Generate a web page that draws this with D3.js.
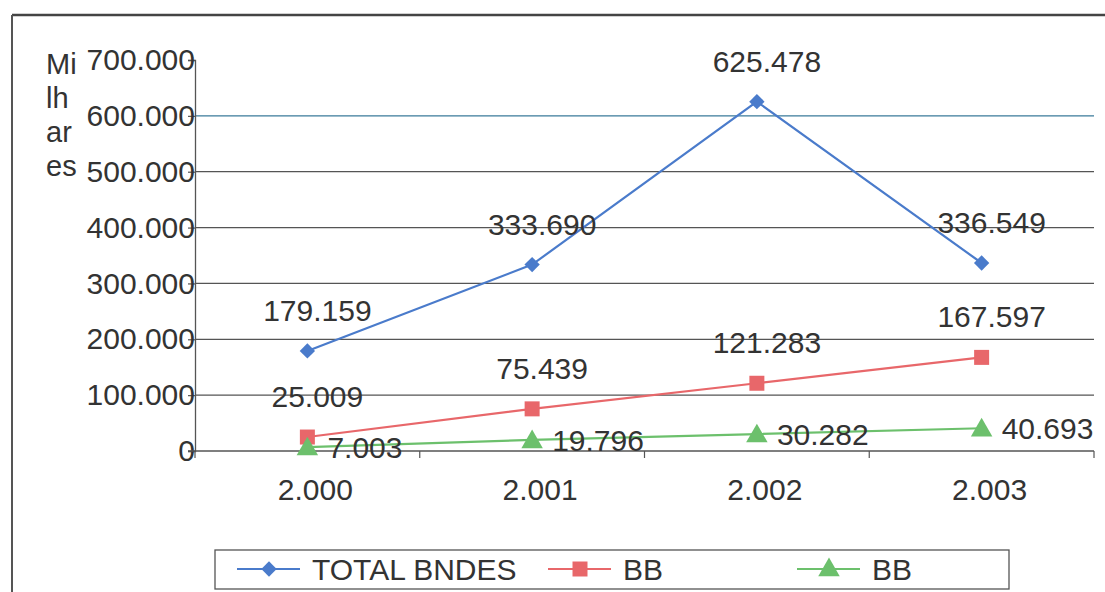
<!DOCTYPE html>
<html>
<head>
<meta charset="utf-8">
<script src="https://cdn.jsdelivr.net/npm/d3@7"></script>
<style>
  body { margin: 0; background: #fff; }
  svg { display: block; }
  text { font-family: "Liberation Sans", Arial, sans-serif; fill: #333; }
</style>
</head>
<body>
<svg id="chart" width="1105" height="592"></svg>
<script>
// Data
const years = ['2.000', '2.001', '2.002', '2.003'];
const totalBndes = [179159, 333690, 625478, 336549];
const bbRed = [25009, 75439, 121283, 167597];
const bbGreen = [7003, 19796, 30282, 40693];
const yTicks = [0, 100000, 200000, 300000, 400000, 500000, 600000, 700000];
const seriesNames = ['TOTAL BNDES', 'BB', 'BB'];

const width = 1105, height = 592;
const margin = {left: 195, right: 11, top: 60, bottom: 141};

const svg = d3.select('#chart');

// portuguese number format: 700.000
const pt = d3.formatLocale({decimal: ',', thousands: '.', grouping: [3], currency: ['R$', '']});
const fmt = pt.format(',d');

const x = d3.scaleBand()
  .domain(years)
  .range([margin.left, width - margin.right]);

const y = d3.scaleLinear()
  .domain([0, 700000])
  .range([height - margin.bottom, margin.top]);

// outer frame (partly cropped in the scan)
svg.append('line')
  .attr('x1', 12).attr('x2', width).attr('y1', 15).attr('y2', 15)
  .attr('stroke', '#444').attr('stroke-width', 2.5);
svg.append('line')
  .attr('x1', 12).attr('x2', 12).attr('y1', 15).attr('y2', height)
  .attr('stroke', '#555').attr('stroke-width', 2);

// gridlines
svg.append('g')
  .selectAll('line')
  .data(yTicks.filter(d => d > 0 && d < 700000))
  .enter()
  .append('line')
  .attr('x1', margin.left).attr('x2', width - margin.right)
  .attr('y1', d => y(d)).attr('y2', d => y(d))
  .attr('stroke', d => d === 600000 ? '#3a7a9a' : '#555')
  .attr('stroke-width', 1.2);

// y axis
const yAxis = svg.append('g')
  .attr('transform', `translate(${margin.left},0)`)
  .call(d3.axisLeft(y).tickValues(yTicks).tickFormat(fmt).tickSize(7).tickPadding(0));
yAxis.select('.domain').attr('stroke', '#555').attr('stroke-width', 1.3);
yAxis.selectAll('.tick line').attr('stroke', '#555').attr('stroke-width', 1.2);
yAxis.selectAll('.tick text')
  .attr('x', 0)
  .style('font-size', '30px')
  .style('font-family', '"Liberation Sans", Arial, sans-serif')
  .attr('fill', '#333');

// x axis with ticks at the category boundaries
const xAxisG = svg.append('g')
  .attr('transform', `translate(0,${y(0)})`);
xAxisG.append('line')
  .attr('x1', margin.left - 7).attr('x2', width - margin.right)
  .attr('stroke', '#555').attr('stroke-width', 1.3);
xAxisG.selectAll('line.tk')
  .data(years.concat(['end']))
  .enter()
  .append('line')
  .attr('class', 'tk')
  .attr('x1', (d, i) => margin.left + i * x.bandwidth())
  .attr('x2', (d, i) => margin.left + i * x.bandwidth())
  .attr('y1', 0).attr('y2', 7)
  .attr('stroke', '#555').attr('stroke-width', 1.2);
xAxisG.selectAll('text')
  .data(years)
  .enter()
  .append('text')
  .attr('x', d => x(d) + x.bandwidth() / 2 + 8)
  .attr('y', 49)
  .attr('text-anchor', 'middle')
  .style('font-size', '30px')
  .text(d => d);

// axis title "Milhares" broken over 4 lines
svg.append('text')
  .attr('x', 46).attr('y', 74)
  .style('font-size', '29px')
  .selectAll('tspan')
  .data(['Mi', 'lh', 'ar', 'es'])
  .enter()
  .append('tspan')
  .attr('x', 46)
  .attr('dy', (d, i) => i === 0 ? 0 : 34)
  .text(d => d);

const cx = d => x(d) + x.bandwidth() / 2;

const series = [
  {values: totalBndes, color: '#4a7bcb', marker: 'diamond', lx: 10, ly: -30},
  {values: bbRed, color: '#e8676a', marker: 'square', lx: 10, ly: -30},
  {values: bbGreen, color: '#6cc06c', marker: 'triangle', lx: 20, ly: 11, anchor: 'start'}
];

const symbolOf = {
  diamond: d3.symbol().type(d3.symbolDiamond2).size(150),
  square: d3.symbol().type(d3.symbolSquare).size(225),
  triangle: d3.symbol().type(d3.symbolTriangle).size(200)
};

const line = d3.line()
  .x((d, i) => cx(years[i]))
  .y(d => y(d));

series.forEach(s => {
  svg.append('path')
    .datum(s.values)
    .attr('d', line)
    .attr('fill', 'none')
    .attr('stroke', s.color)
    .attr('stroke-width', 2.2);

  svg.append('g')
    .selectAll('path')
    .data(s.values)
    .enter()
    .append('path')
    .attr('d', symbolOf[s.marker])
    .attr('transform', (d, i) => `translate(${cx(years[i])},${y(d) + (s.marker === 'triangle' ? 2 : 0)})`)
    .attr('fill', s.color);
});

// data labels
series.forEach(s => {
  svg.append('g')
    .selectAll('text')
    .data(s.values)
    .enter()
    .append('text')
    .attr('x', (d, i) => cx(years[i]) + s.lx)
    .attr('y', d => y(d) + s.ly)
    .attr('text-anchor', s.anchor || 'middle')
    .style('font-size', '30px')
    .text(d => fmt(d));
});

// legend
const legend = svg.append('g');
legend.append('rect')
  .attr('x', 215).attr('y', 550)
  .attr('width', 794).attr('height', 39)
  .attr('fill', '#fff')
  .attr('stroke', '#555').attr('stroke-width', 1.3);

const legendX = [237, 548, 797];
series.forEach((s, i) => {
  const g = legend.append('g').attr('transform', `translate(${legendX[i]},569)`);
  g.append('line')
    .attr('x1', 0).attr('x2', 63)
    .attr('stroke', s.color).attr('stroke-width', 2.2);
  g.append('path')
    .attr('d', symbolOf[s.marker])
    .attr('transform', `translate(32,${s.marker === 'triangle' ? 1 : 0})`)
    .attr('fill', s.color);
  g.append('text')
    .attr('x', 75).attr('y', 11)
    .style('font-size', '30px')
    .text(seriesNames[i]);
});
</script>
</body>
</html>
